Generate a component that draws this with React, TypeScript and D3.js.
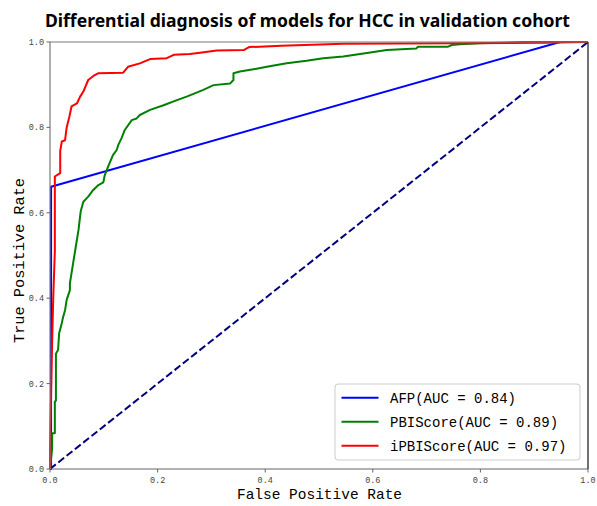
import React from "react";
import * as d3 from "d3";

const W = 597;
const H = 506;
const M = { left: 50, right: 9, top: 42, bottom: 37 };

const titleText = "Differential diagnosis of models for HCC in validation cohort";
const xLabel = "False Positive Rate";
const yLabel = "True Positive Rate";
const tickValues = [0, 0.2, 0.4, 0.6, 0.8, 1.0];

const afpFpr = [0, 0.002, 0.002, 0.948, 1];
const afpTpr = [0, 0.0, 0.661, 1.0, 1.0];

const pbiFpr = [0, 0.004, 0.004, 0.009, 0.009, 0.011, 0.011, 0.015, 0.017, 0.022, 0.024, 0.028, 0.031, 0.037, 0.037, 0.043, 0.048, 0.053, 0.057, 0.062, 0.071, 0.080, 0.090, 0.099, 0.102, 0.108, 0.117, 0.124, 0.127, 0.133, 0.139, 0.152, 0.161, 0.167, 0.186, 0.211, 0.236, 0.254, 0.285, 0.304, 0.335, 0.341, 0.341, 0.353, 0.378, 0.403, 0.440, 0.477, 0.508, 0.545, 0.589, 0.626, 0.681, 0.684, 0.740, 0.747, 0.762, 0.80, 0.88, 1];
const pbiTpr = [0, 0.049, 0.084, 0.084, 0.158, 0.16, 0.27, 0.279, 0.318, 0.342, 0.354, 0.372, 0.396, 0.419, 0.435, 0.482, 0.521, 0.56, 0.603, 0.626, 0.638, 0.653, 0.665, 0.671, 0.689, 0.708, 0.735, 0.747, 0.759, 0.775, 0.794, 0.817, 0.821, 0.829, 0.841, 0.852, 0.864, 0.872, 0.888, 0.899, 0.903, 0.911, 0.927, 0.931, 0.936, 0.942, 0.950, 0.956, 0.962, 0.966, 0.974, 0.981, 0.985, 0.989, 0.989, 0.993, 0.995, 0.997, 1.0, 1.0];

const ipbiFpr = [0, 0, 0.004, 0.006, 0.009, 0.009, 0.019, 0.019, 0.022, 0.028, 0.031, 0.036, 0.040, 0.050, 0.056, 0.062, 0.071, 0.080, 0.090, 0.136, 0.145, 0.167, 0.186, 0.217, 0.230, 0.260, 0.279, 0.31, 0.36, 0.37, 0.43, 0.545, 0.92, 1];
const ipbiTpr = [0, 0.05, 0.30, 0.40, 0.51, 0.685, 0.693, 0.745, 0.767, 0.77, 0.80, 0.825, 0.849, 0.856, 0.872, 0.884, 0.911, 0.92, 0.927, 0.928, 0.942, 0.950, 0.960, 0.962, 0.970, 0.972, 0.975, 0.980, 0.981, 0.988, 0.991, 0.996, 0.998, 1.0];

const seriesNames = ["AFP(AUC = 0.84)", "PBIScore(AUC = 0.89)", "iPBIScore(AUC = 0.97)"];
const seriesColors = ["#0000ff", "#008000", "#ff0000"];

const mono = "'Liberation Mono', 'DejaVu Sans Mono', monospace";

export default function App() {
  const x = d3.scaleLinear().domain([0, 1]).range([M.left, W - M.right]);
  const y = d3.scaleLinear().domain([0, 1]).range([H - M.bottom, M.top]);
  const line = d3
    .line<[number, number]>()
    .x((d) => x(d[0]))
    .y((d) => y(d[1]));

  const series = [
    afpFpr.map((f, i) => [f, afpTpr[i]] as [number, number]),
    pbiFpr.map((f, i) => [f, pbiTpr[i]] as [number, number]),
    ipbiFpr.map((f, i) => [f, ipbiTpr[i]] as [number, number]),
  ];

  const x0 = x(0), x1 = x(1), y0 = y(0), y1 = y(1);
  const spine = "#7a7a7a";

  const legX = 335, legY = 384, legW = 245, legH = 76;

  return (
    <svg
      width={W}
      height={H}
      style={{ position: "absolute", left: 0, top: 0, background: "#fff" }}
    >
      <rect x={0} y={0} width={W} height={H} fill="#fff" />
      <text
        x={45}
        y={27}
        fontFamily="'Noto Sans', 'Liberation Sans', sans-serif"
        fontWeight="bold"
        fontSize={18}
        textLength={525}
        lengthAdjust="spacingAndGlyphs"
        fill="#000"
      >
        {titleText}
      </text>

      {/* diagonal */}
      <path
        d={line([[0, 0], [1, 1]]) || ""}
        stroke="#000080"
        strokeWidth={2}
        strokeDasharray="7.4,3.2"
        fill="none"
      />

      {series.map((s, i) => (
        <path
          key={i}
          d={line(s) || ""}
          stroke={seriesColors[i]}
          strokeWidth={2}
          fill="none"
          strokeLinejoin="round"
        />
      ))}

      {/* spines */}
      <line x1={x0} y1={y0} x2={x0} y2={y1} stroke={spine} strokeWidth={1.2} />
      <line x1={x0} y1={y1} x2={x1} y2={y1} stroke={spine} strokeWidth={1.2} />
      <line x1={x0} y1={y0} x2={x1} y2={y0} stroke="#666" strokeWidth={1.2} />
      <line x1={x1} y1={y0} x2={x1} y2={y1} stroke="#111" strokeWidth={1.2} />

      {/* x ticks */}
      {tickValues.map((t) => (
        <g key={"x" + t}>
          <line x1={x(t)} x2={x(t)} y1={y0} y2={y0 + 3.5} stroke="#666" strokeWidth={1} />
          <text
            x={x(t)}
            y={y0 + 14}
            textAnchor="middle"
            fontFamily={mono}
            fontSize={8.5}
            fill="#444"
          >
            {t.toFixed(1)}
          </text>
        </g>
      ))}
      {/* y ticks */}
      {tickValues.map((t) => (
        <g key={"y" + t}>
          <line x1={x0 - 3.5} x2={x0} y1={y(t)} y2={y(t)} stroke="#666" strokeWidth={1} />
          <text
            x={x0 - 6}
            y={y(t) + 3}
            textAnchor="end"
            fontFamily={mono}
            fontSize={8.5}
            fill="#444"
          >
            {t.toFixed(1)}
          </text>
        </g>
      ))}

      <text
        x={237}
        y={499}
        fontFamily={mono}
        fontSize={15}
        textLength={165}
        lengthAdjust="spacingAndGlyphs"
        fill="#000"
      >
        {xLabel}
      </text>
      <text
        transform={`translate(24, ${343}) rotate(-90)`}
        fontFamily={mono}
        fontSize={15}
        textLength={165}
        lengthAdjust="spacingAndGlyphs"
        fill="#000"
      >
        {yLabel}
      </text>

      {/* legend */}
      <rect
        x={legX}
        y={legY}
        width={legW}
        height={legH}
        rx={3}
        fill="#fff"
        fillOpacity={0.8}
        stroke="#cccccc"
        strokeWidth={1}
      />
      {seriesNames.map((n, i) => (
        <g key={n}>
          <line
            x1={341.5}
            x2={378.5}
            y1={397.7 + i * 24}
            y2={397.7 + i * 24}
            stroke={seriesColors[i]}
            strokeWidth={2}
          />
          <text
            x={390}
            y={397.7 + i * 24 + 5}
            fontFamily={mono}
            fontSize={14}
            fill="#000"
          >
            {n}
          </text>
        </g>
      ))}
    </svg>
  );
}
